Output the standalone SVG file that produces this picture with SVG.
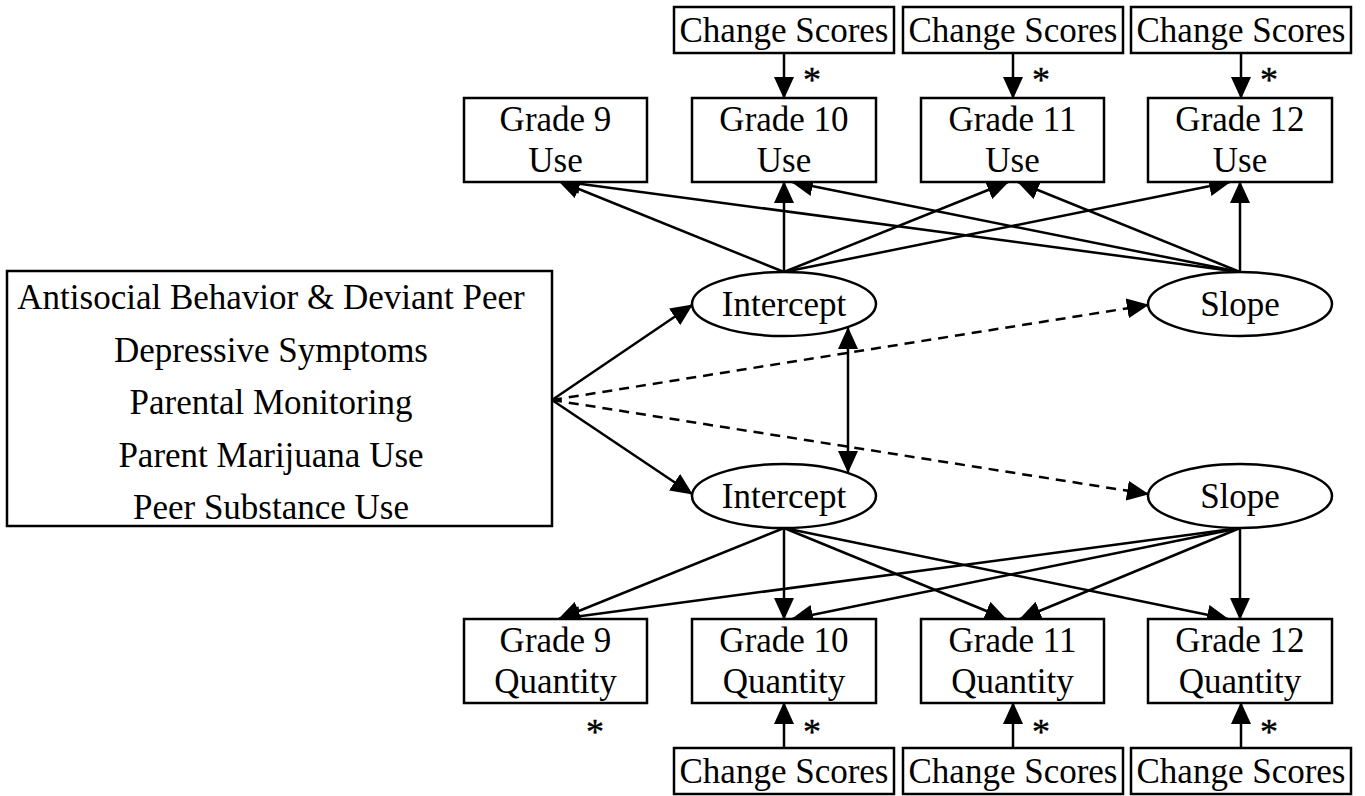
<svg xmlns="http://www.w3.org/2000/svg" width="1365" height="796" viewBox="0 0 1365 796">
<style>
text{font-family:"Liberation Serif","Times New Roman",serif;font-size:35px;fill:#000;text-anchor:middle}
.ast{font-size:36px;stroke:#000;stroke-width:0.4}
.box{fill:#fff;stroke:#000;stroke-width:2.5}
.e{fill:#fff;stroke:#000;stroke-width:2.5}
.c{fill:none;stroke:#000;stroke-width:2.5;marker-end:url(#ah)}
.d{stroke-dasharray:10,7}
.dbl{marker-start:url(#ah)}
</style>
<defs>
<marker id="ah" markerUnits="userSpaceOnUse" markerWidth="22" markerHeight="20" viewBox="0 0 22 20" refX="21" refY="10" orient="auto-start-reverse">
<path d="M0,0 L22,10 L0,20 Z" fill="#000"/>
</marker>
</defs>
<rect width="1365" height="796" fill="#fff"/>
<g id="connectors">
<line class="c" x1="784" y1="53" x2="784" y2="98"/>
<line class="c" x1="1013" y1="53" x2="1013" y2="98"/>
<line class="c" x1="1241" y1="53" x2="1241" y2="98"/>
<line class="c" x1="784" y1="748" x2="784" y2="703"/>
<line class="c" x1="1013" y1="748" x2="1013" y2="703"/>
<line class="c" x1="1241" y1="748" x2="1241" y2="703"/>
<line class="c" x1="784" y1="272" x2="559" y2="181"/>
<line class="c" x1="784" y1="272" x2="784" y2="182"/>
<line class="c" x1="784" y1="272" x2="1008" y2="182"/>
<line class="c" x1="784" y1="272" x2="1230" y2="182"/>
<line class="c" x1="1240" y1="272" x2="559" y2="181"/>
<line class="c" x1="1240" y1="272" x2="792" y2="182"/>
<line class="c" x1="1240" y1="272" x2="1018" y2="182"/>
<line class="c" x1="1240" y1="272" x2="1240" y2="182"/>
<line class="c" x1="784" y1="528" x2="559" y2="619"/>
<line class="c" x1="784" y1="528" x2="784" y2="619"/>
<line class="c" x1="784" y1="528" x2="1006" y2="619"/>
<line class="c" x1="784" y1="528" x2="1228" y2="619"/>
<line class="c" x1="1240" y1="528" x2="559" y2="619"/>
<line class="c" x1="1240" y1="528" x2="792" y2="619"/>
<line class="c" x1="1240" y1="528" x2="1020" y2="619"/>
<line class="c" x1="1240" y1="528" x2="1240" y2="619"/>
<line class="c" x1="552" y1="400" x2="692" y2="305"/>
<line class="c" x1="552" y1="400" x2="692" y2="494"/>
<line class="c d" x1="552" y1="400" x2="1148" y2="305"/>
<line class="c d" x1="552" y1="400" x2="1148" y2="494"/>
<line class="c dbl" x1="848" y1="328" x2="848" y2="472"/>
</g>
<g id="predictors">
<rect class="box" x="7" y="271" width="545" height="255"/>
<text x="271" y="309">Antisocial Behavior &amp; Deviant Peer</text>
<text x="271" y="362">Depressive Symptoms</text>
<text x="271" y="414">Parental Monitoring</text>
<text x="271" y="467">Parent Marijuana Use</text>
<text x="271" y="519">Peer Substance Use</text>
</g>
<g id="cs-use-10"><rect class="box" x="674" y="7" width="220" height="46"/><text x="784" y="42">Change Scores</text></g>
<g id="cs-use-11"><rect class="box" x="903" y="7" width="220" height="46"/><text x="1013" y="42">Change Scores</text></g>
<g id="cs-use-12"><rect class="box" x="1131" y="7" width="220" height="46"/><text x="1241" y="42">Change Scores</text></g>
<g id="use-9"><rect class="box" x="464" y="98" width="183" height="84"/><text x="555.5" y="131">Grade 9</text><text x="555.5" y="172">Use</text></g>
<g id="use-10"><rect class="box" x="692" y="98" width="184" height="84"/><text x="784" y="131">Grade 10</text><text x="784" y="172">Use</text></g>
<g id="use-11"><rect class="box" x="921" y="98" width="183" height="84"/><text x="1012.5" y="131">Grade 11</text><text x="1012.5" y="172">Use</text></g>
<g id="use-12"><rect class="box" x="1148" y="98" width="184" height="84"/><text x="1240" y="131">Grade 12</text><text x="1240" y="172">Use</text></g>
<g id="intercept-use"><ellipse class="e" cx="784" cy="304" rx="92" ry="32"/><text x="784" y="316">Intercept</text></g>
<g id="slope-use"><ellipse class="e" cx="1240" cy="304" rx="92" ry="32"/><text x="1240" y="316">Slope</text></g>
<g id="intercept-qty"><ellipse class="e" cx="784" cy="496" rx="92" ry="32"/><text x="784" y="508">Intercept</text></g>
<g id="slope-qty"><ellipse class="e" cx="1240" cy="496" rx="92" ry="32"/><text x="1240" y="508">Slope</text></g>
<g id="qty-9"><rect class="box" x="464" y="619" width="183" height="84"/><text x="555.5" y="652">Grade 9</text><text x="555.5" y="693">Quantity</text></g>
<g id="qty-10"><rect class="box" x="692" y="619" width="184" height="84"/><text x="784" y="652">Grade 10</text><text x="784" y="693">Quantity</text></g>
<g id="qty-11"><rect class="box" x="921" y="619" width="183" height="84"/><text x="1012.5" y="652">Grade 11</text><text x="1012.5" y="693">Quantity</text></g>
<g id="qty-12"><rect class="box" x="1148" y="619" width="184" height="84"/><text x="1240" y="652">Grade 12</text><text x="1240" y="693">Quantity</text></g>
<g id="cs-qty-10"><rect class="box" x="674" y="748" width="220" height="46"/><text x="784" y="783">Change Scores</text></g>
<g id="cs-qty-11"><rect class="box" x="903" y="748" width="220" height="46"/><text x="1013" y="783">Change Scores</text></g>
<g id="cs-qty-12"><rect class="box" x="1131" y="748" width="220" height="46"/><text x="1241" y="783">Change Scores</text></g>
<g id="asterisks">
<text class="ast" x="812" y="92">*</text>
<text class="ast" x="1041" y="92">*</text>
<text class="ast" x="1269" y="92">*</text>
<text class="ast" x="595" y="744">*</text>
<text class="ast" x="812" y="744">*</text>
<text class="ast" x="1041" y="744">*</text>
<text class="ast" x="1269" y="744">*</text>
</g>
</svg>
